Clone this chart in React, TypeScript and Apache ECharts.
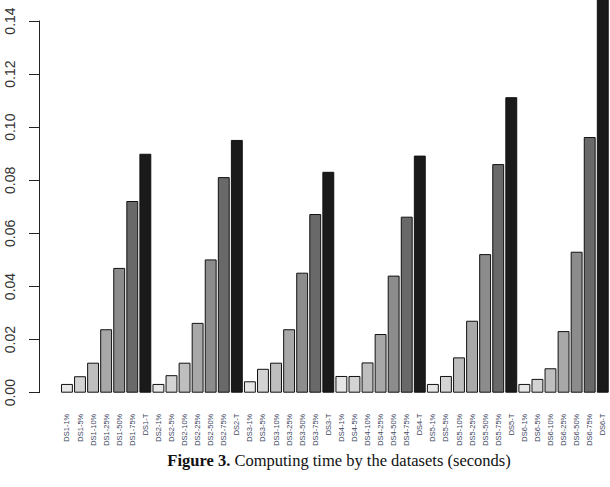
import React, { useEffect, useRef } from "react";
import * as echarts from "echarts";

const datasets = ["DS1", "DS2", "DS3", "DS4", "DS5", "DS6"];
const levels = ["1%", "5%", "10%", "25%", "50%", "75%", "T"];
const levelColors = ["#e6e6e6", "#d3d3d3", "#bebebe", "#a8a8a8", "#8c8c8c", "#696969", "#1a1a1a"];

const ds1 = [0.0033, 0.0062, 0.0113, 0.0239, 0.047, 0.0722, 0.09];
const ds2 = [0.0033, 0.0066, 0.0113, 0.0263, 0.0502, 0.0812, 0.0952];
const ds3 = [0.0043, 0.009, 0.0113, 0.0239, 0.0452, 0.0673, 0.0832];
const ds4 = [0.0063, 0.0063, 0.0114, 0.0221, 0.0441, 0.0663, 0.0893];
const ds5 = [0.0033, 0.0063, 0.0133, 0.0271, 0.0522, 0.0861, 0.1113];
const ds6 = [0.0033, 0.0052, 0.0092, 0.0232, 0.0531, 0.0963, 0.16];
const allValues = [ds1, ds2, ds3, ds4, ds5, ds6];

const yTicks = [0, 0.02, 0.04, 0.06, 0.08, 0.1, 0.12, 0.14];

export default function App() {
  const ref = useRef<HTMLDivElement>(null);
  useEffect(() => {
    if (!ref.current) return;
    const chart = echarts.init(ref.current, undefined, { renderer: "svg" });
    const categories: string[] = [];
    const data: any[] = [];
    datasets.forEach((ds, i) => {
      levels.forEach((lv, j) => {
        categories.push(`${ds}-${lv}`);
        data.push({ value: allValues[i][j], itemStyle: { color: levelColors[j] } });
      });
    });
    chart.setOption({
      animation: false,
      backgroundColor: "#ffffff",
      grid: { left: 60.4, right: 0.7, top: 21, bottom: 94.3, containLabel: false },
      xAxis: {
        type: "category",
        data: categories,
        axisLine: { show: false },
        axisTick: { show: false },
        axisLabel: {
          interval: 0,
          rotate: 90,
          margin: 21,
          fontSize: 7.5,
          color: "#3d4560",
          fontFamily: "Liberation Sans Narrow, Arial Narrow, Liberation Sans, sans-serif",
        },
      },
      yAxis: {
        type: "value",
        min: yTicks[0],
        max: yTicks[yTicks.length - 1],
        interval: 0.02,
        offset: 21.4,
        splitLine: { show: false },
        axisLine: { show: true, lineStyle: { color: "#222", width: 1 } },
        axisTick: { show: true, length: 10, lineStyle: { color: "#222" } },
        axisLabel: {
          rotate: 90,
          margin: 22,
          fontSize: 14,
          color: "#333",
          fontFamily: "Liberation Sans, Arial, sans-serif",
          formatter: (v: number) => v.toFixed(2),
        },
      },
      series: [
        {
          type: "bar",
          data,
          clip: false,
          barCategoryGap: "9%",
          itemStyle: { borderColor: "#111", borderWidth: 1 },
        },
      ],
      graphic: [
        {
          type: "text",
          x: 339,
          y: 460,
          style: {
            text: "{b|Figure 3.} Computing time by the datasets (seconds)",
            align: "center",
            verticalAlign: "middle",
            fontSize: 16.5,
            fontFamily: "Liberation Serif, Times New Roman, serif",
            fill: "#111",
            rich: {
              b: { fontWeight: "bold", fontSize: 16.5, fontFamily: "Liberation Serif, Times New Roman, serif", fill: "#111" },
            },
          },
        },
      ],
    });
    return () => chart.dispose();
  }, []);
  return (
    <div
      ref={ref}
      style={{ position: "absolute", left: 0, top: 0, width: 610, height: 487, background: "#fff" }}
    />
  );
}
